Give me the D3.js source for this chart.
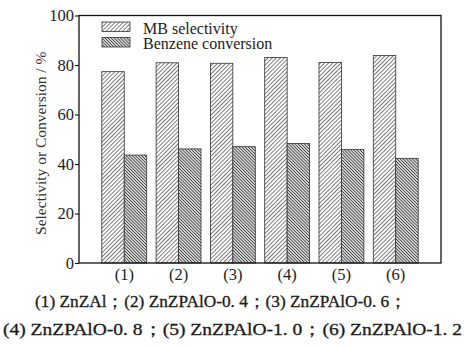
<!DOCTYPE html>
<html><head><meta charset="utf-8">
<script src="https://cdn.jsdelivr.net/npm/d3@7"></script>
<style>body{margin:0;background:#fff}svg{display:block}</style>
</head><body>
<script>
const categories = ["(1)","(2)","(3)","(4)","(5)","(6)"];
const seriesNames = ["MB selectivity","Benzene conversion"];
const mbSelectivity = [77.3, 80.9, 80.7, 83.0, 81.0, 83.8];
const benzeneConversion = [43.6, 46.1, 47.0, 48.3, 45.8, 42.3];
const yTicks = [0, 20, 40, 60, 80, 100];
const yTitle = "Selectivity or Conversion / %";
const captionLines = [
  "(1) ZnZAl；(2) ZnZPAlO-0. 4；(3) ZnZPAlO-0. 6；",
  "(4) ZnZPAlO-0. 8；(5) ZnZPAlO-1. 0；(6) ZnZPAlO-1. 2"
];

const W = 465, H = 347;
const m = {left: 79, right: 441, top: 15.5, bottom: 263};
const svg = d3.select("body").append("svg").attr("width", W).attr("height", H);
const defs = svg.append("defs");

function hatch(id, angle, spacing, width, color) {
  const p = defs.append("pattern").attr("id", id).attr("patternUnits", "userSpaceOnUse")
    .attr("width", spacing).attr("height", spacing)
    .attr("patternTransform", `rotate(${angle})`);
  p.append("rect").attr("width", spacing).attr("height", spacing).attr("fill", "#fff");
  p.append("line").attr("x1", spacing/2).attr("x2", spacing/2).attr("y1", 0).attr("y2", spacing)
    .attr("stroke", color).attr("stroke-width", width);
}
hatch("hMB", 45, 2.9, 0.8, "#5a5a5a");
hatch("hBZ", -45, 2.2, 1.0, "#333");
const fills = ["url(#hMB)", "url(#hBZ)"];

const x = d3.scaleBand().domain(categories).range([m.left, m.right]).paddingInner(0.173).paddingOuter(0.42);
const xs = d3.scaleBand().domain([0, 1]).range([0, x.bandwidth()]);
const y = d3.scaleLinear().domain([0, 100]).range([m.bottom, m.top]);

const rows = categories.map((c, i) => ({c, v: [mbSelectivity[i], benzeneConversion[i]]}));
const g = svg.append("g");
rows.forEach(r => {
  r.v.forEach((v, k) => {
    g.append("rect")
      .attr("x", x(r.c) + xs(k)).attr("width", xs.bandwidth())
      .attr("y", y(v)).attr("height", y(0) - y(v))
      .attr("fill", fills[k]).attr("stroke", "#333").attr("stroke-width", 0.8);
  });
});

// frame
svg.append("rect").attr("x", m.left).attr("y", m.top).attr("width", m.right - m.left)
  .attr("height", m.bottom - m.top).attr("fill", "none").attr("stroke", "#111").attr("stroke-width", 1.3);

const font = "'Liberation Serif','Times New Roman',serif";
const yAxis = svg.append("g").attr("transform", `translate(${m.left},0)`)
  .call(d3.axisLeft(y).tickValues(yTicks).tickSize(4).tickSizeOuter(0).tickPadding(1));
yAxis.select(".domain").remove();
yAxis.selectAll("line").attr("stroke", "#111").attr("stroke-width", 1.1);
yAxis.selectAll("text").attr("font-family", font).attr("font-size", 16.5).attr("fill", "#222");

const xAxis = svg.append("g").attr("transform", `translate(0,${m.bottom})`)
  .call(d3.axisBottom(x).tickSize(0).tickPadding(5));
xAxis.select(".domain").remove();
xAxis.selectAll("text").attr("font-family", font).attr("font-size", 16.5).attr("fill", "#222");

svg.append("text").attr("transform", `translate(46,${(m.top + m.bottom)/2 + 4}) rotate(-90)`)
  .attr("text-anchor", "middle").attr("font-family", font).attr("font-size", 15.5).attr("fill", "#333")
  .text(yTitle);

// legend
const lg = svg.append("g");
seriesNames.forEach((n, k) => {
  const yy = 22 + k * 15.5;
  lg.append("rect").attr("x", 102).attr("y", yy).attr("width", 28).attr("height", 9.5)
    .attr("fill", fills[k]).attr("stroke", "#333").attr("stroke-width", 0.8);
  lg.append("text").attr("x", 143).attr("y", yy + 11.5).attr("font-family", font).attr("font-size", 16)
    .attr("fill", "#222").text(n);
});

// caption
const capX = [[35, 407], [3, 462]];
const capY = [307, 335];
captionLines.forEach((t, i) => {
  svg.append("text").attr("x", capX[i][0]).attr("y", capY[i])
    .attr("font-family", font).attr("font-size", 16.5).attr("fill", "#1a1a1a")
    .attr("stroke", "#1a1a1a").attr("stroke-width", 0.3)
    .attr("textLength", capX[i][1] - capX[i][0]).attr("lengthAdjust", "spacingAndGlyphs")
    .text(t);
});
</script>
</body></html>
